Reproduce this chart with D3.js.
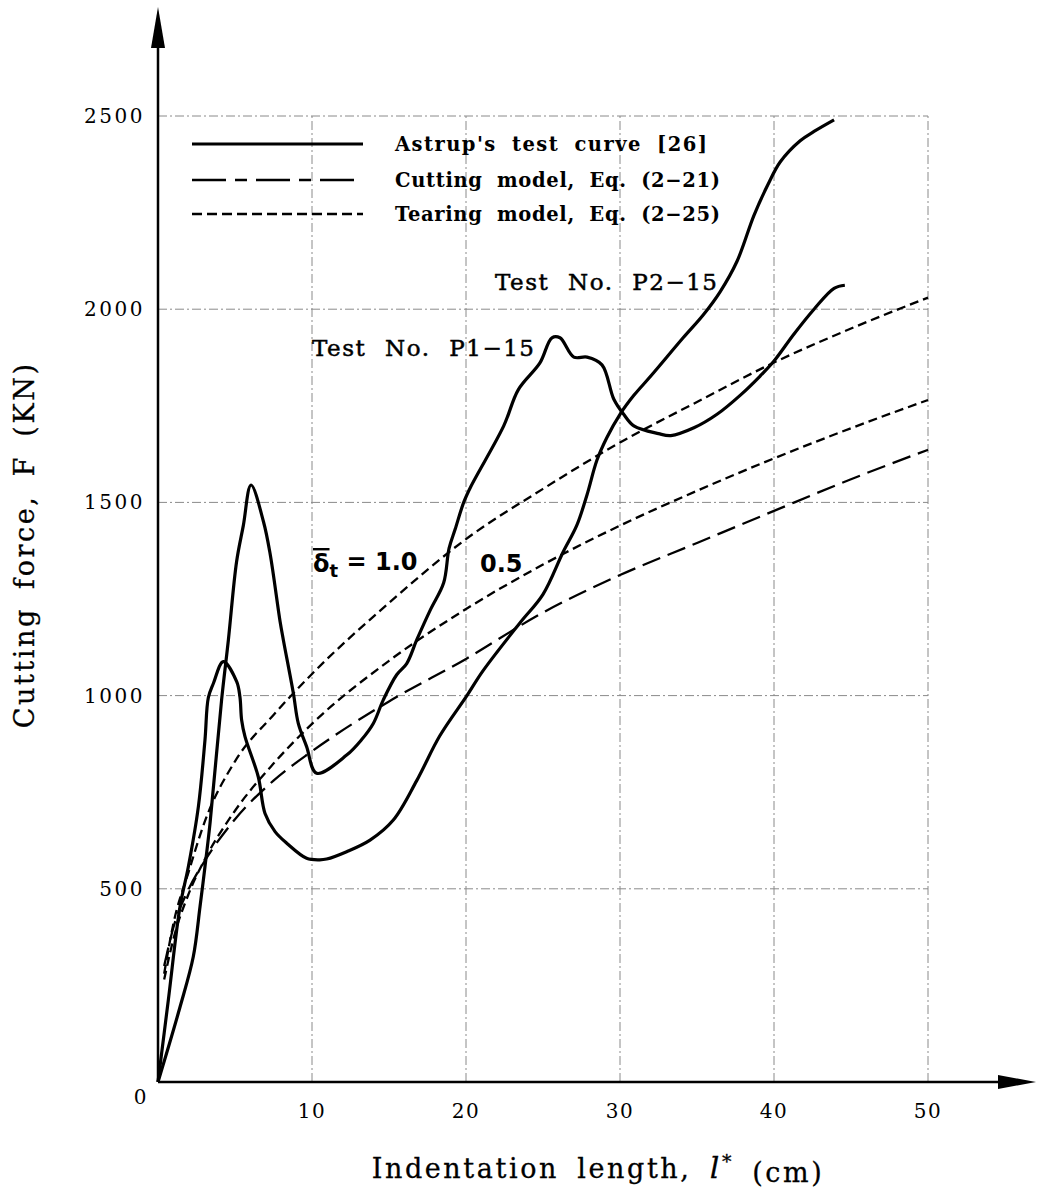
<!DOCTYPE html>
<html>
<head>
<meta charset="utf-8">
<script src="https://cdn.jsdelivr.net/npm/d3@7"></script>
<style>
  body { margin: 0; background: #fff; }
  svg { display: block; }
</style>
</head>
<body>
<svg></svg>
<script>
// Astrup's test curves (P1-15, P2-15)
const p1X = [0, 1.43, 2.29, 2.73, 3.05, 3.38, 4.13, 4.57, 5.1, 5.54, 6.04, 6.85, 7.28, 7.93, 8.14, 8.79, 9.11, 9.65, 10.3,
    12.25, 13.2, 13.98, 14.63, 15.5, 16.15, 16.8, 17.7, 18.55, 18.9, 19.3, 19.85, 20.3, 22.45, 23.4, 24.8, 25.58, 26.1,
    27, 27.86, 28.83, 29.6, 30.24, 30.9, 32.5, 33.3, 34.8, 36.3, 37.8, 39.1, 40, 41.3, 42.6, 43.9, 44.6];
const p1F = [0, 194, 324, 454, 557, 670, 989, 1144, 1346, 1440, 1545, 1450, 1367, 1191, 1144, 1006, 928, 868, 799,
    846, 885, 928, 989, 1054, 1083, 1144, 1223, 1292, 1381, 1431, 1500, 1540, 1698, 1792, 1861, 1926, 1926,
    1876, 1876, 1856, 1767, 1728, 1698, 1678, 1673, 1693, 1728, 1777, 1827, 1866, 1936, 2000, 2054, 2062];

const p2X = [0, 0.67, 1.43, 1.97, 2.62, 3.05, 3.27, 3.6, 4.24, 5.11, 5.32, 5.43, 5.65, 6.51, 6.95, 7.6, 8.36, 9.65, 10.5,
    10.95, 12.25, 13.77, 15.28, 16.8, 18.3, 20.06, 21.1, 23.5, 25, 26.3, 27.2, 27.86, 28.5, 29.15, 30, 30.9, 32,
    34.1, 35.4, 36.5, 37.6, 38.7, 39.6, 40.4, 41.7, 42.6, 43.9];
const p2F = [0, 212, 454, 557, 712, 885, 995, 1032, 1088, 1036, 997, 937, 894, 790, 695, 648, 618, 579, 575,
    577, 596, 626, 678, 780, 896, 1000, 1064, 1188, 1262, 1371, 1441, 1520, 1609, 1668, 1728, 1777, 1827,
    1926, 1985, 2045, 2124, 2243, 2322, 2381, 2436, 2460, 2490];

// model curves
const modelX = [0.4, 1, 2, 3, 5, 7.5, 10, 15, 20, 25, 30, 35, 40, 45, 50];
const tear10F = [280, 410, 545, 670, 830, 950, 1056, 1240, 1405, 1535, 1655, 1760, 1862, 1950, 2030];
const tear05F = [265, 370, 488, 573, 702, 824, 927, 1090, 1224, 1339, 1440, 1530, 1614, 1692, 1765];
const cutF = [300, 400, 500, 570, 680, 780, 856, 985, 1095, 1215, 1312, 1395, 1478, 1560, 1636];

const xTicks = [10, 20, 30, 40, 50];
const yTicks = [500, 1000, 1500, 2000, 2500];

const legendItems = ["Astrup's test curve [26]", "Cutting model, Eq. (2\u221221)", "Tearing model, Eq. (2\u221225)"];

const W = 1039, H = 1188;
const margin = {top: 116, right: 111, bottom: 106, left: 158},
    width = W - margin.left - margin.right,
    height = H - margin.top - margin.bottom;

const svg = d3.select("svg")
    .attr("width", W)
    .attr("height", H)
  .append("g")
    .attr("transform", `translate(${margin.left},${margin.top})`);

const x = d3.scaleLinear().domain([0, 50]).range([0, width]);
const y = d3.scaleLinear().domain([0, 2500]).range([height, 0]);

const serif = "'DejaVu Serif', 'Liberation Serif', serif";

// grid
svg.append("g")
    .selectAll("line")
    .data(xTicks)
    .join("line")
    .attr("x1", d => x(d)).attr("x2", d => x(d))
    .attr("y1", y(0)).attr("y2", y(2500))
    .attr("stroke", "#8a8a8a")
    .attr("stroke-width", 1)
    .attr("stroke-dasharray", "9,3,2,3");

svg.append("g")
    .selectAll("line")
    .data(yTicks)
    .join("line")
    .attr("x1", x(0)).attr("x2", x(50))
    .attr("y1", d => y(d)).attr("y2", d => y(d))
    .attr("stroke", "#8a8a8a")
    .attr("stroke-width", 1)
    .attr("stroke-dasharray", "9,3,2,3");

// axes with arrows
svg.append("line")
    .attr("x1", x(0)).attr("x2", x(0))
    .attr("y1", y(0)).attr("y2", -80)
    .attr("stroke", "#000").attr("stroke-width", 2.5);
svg.append("path")
    .attr("d", `M${x(0)},${-109} L${x(0) - 7},${-68} L${x(0) + 7},${-68} Z`)
    .attr("fill", "#000");

svg.append("line")
    .attr("x1", x(0)).attr("x2", width + 80)
    .attr("y1", y(0)).attr("y2", y(0))
    .attr("stroke", "#000").attr("stroke-width", 2.5);
svg.append("path")
    .attr("d", `M${width + 108},${y(0)} L${width + 70},${y(0) - 7} L${width + 70},${y(0) + 7} Z`)
    .attr("fill", "#000");

// tick labels
svg.append("g")
    .selectAll("text")
    .data(xTicks)
    .join("text")
    .attr("x", d => x(d))
    .attr("y", y(0) + 36)
    .attr("text-anchor", "middle")
    .style("font-family", serif)
    .style("font-size", "20px")
    .style("letter-spacing", "1.5px")
    .text(d => d);

svg.append("text")
    .attr("x", -18)
    .attr("y", y(0) + 22)
    .attr("text-anchor", "middle")
    .style("font-family", serif)
    .style("font-size", "20px")
    .text("0");

svg.append("g")
    .selectAll("text")
    .data(yTicks)
    .join("text")
    .attr("x", -13)
    .attr("y", d => y(d))
    .attr("dy", "0.35em")
    .attr("text-anchor", "end")
    .style("font-family", serif)
    .style("font-size", "20px")
    .style("letter-spacing", "2.5px")
    .text(d => d);

// axis titles
const xt = svg.append("text")
    .attr("x", 440)
    .attr("y", height + 96)
    .attr("text-anchor", "middle")
    .style("font-family", serif)
    .style("font-size", "27px")
    .style("letter-spacing", "2.6px")
    .style("word-spacing", "7px")
    .style("stroke", "#000").style("stroke-width", 0.3);
xt.append("tspan").text("Indentation length, ");
xt.append("tspan").style("font-style", "italic").style("font-size", "30px").text("l");
xt.append("tspan").attr("dy", "-0.55em").style("font-size", "19px").text("*");
xt.append("tspan").attr("dy", "0.55em").text(" (cm)");

svg.append("text")
    .attr("transform", `translate(${-124},${y(1390)}) rotate(-90)`)
    .attr("text-anchor", "middle")
    .style("font-family", serif)
    .style("font-size", "27px")
    .style("letter-spacing", "2.6px")
    .style("word-spacing", "7px")
    .style("stroke", "#000").style("stroke-width", 0.3)
    .text("Cutting force, F (KN)");

// curves
const line = d3.line()
    .curve(d3.curveCatmullRom.alpha(0.5))
    .x(d => x(d[0]))
    .y(d => y(d[1]));

const modelLine = d3.line()
    .curve(d3.curveMonotoneX)
    .x(d => x(d[0]))
    .y(d => y(d[1]));

const curves = svg.append("g");

curves.append("path")
    .datum(modelX.map((v, i) => [v, cutF[i]]))
    .attr("d", modelLine)
    .attr("fill", "none")
    .attr("stroke", "#000")
    .attr("stroke-width", 2.3)
    .attr("stroke-dasharray", "19,8");

curves.append("path")
    .datum(modelX.map((v, i) => [v, tear05F[i]]))
    .attr("d", modelLine)
    .attr("fill", "none")
    .attr("stroke", "#000")
    .attr("stroke-width", 2.3)
    .attr("stroke-dasharray", "9,5");

curves.append("path")
    .datum(modelX.map((v, i) => [v, tear10F[i]]))
    .attr("d", modelLine)
    .attr("fill", "none")
    .attr("stroke", "#000")
    .attr("stroke-width", 2.3)
    .attr("stroke-dasharray", "9,5");

curves.append("path")
    .datum(p1X.map((v, i) => [v, p1F[i]]))
    .attr("d", line)
    .attr("fill", "none")
    .attr("stroke", "#000")
    .attr("stroke-width", 3.2)
    .attr("stroke-linejoin", "round");

curves.append("path")
    .datum(p2X.map((v, i) => [v, p2F[i]]))
    .attr("d", line)
    .attr("fill", "none")
    .attr("stroke", "#000")
    .attr("stroke-width", 3.2)
    .attr("stroke-linejoin", "round");

// legend
const dashes = [null, "34,9,12,9", "10,5"];
const legend = svg.append("g")
    .selectAll("g")
    .data(legendItems)
    .join("g")
    .attr("transform", (d, i) => `translate(0,${[28, 64, 98][i]})`);

legend.append("line")
    .attr("x1", 34).attr("x2", 205)
    .attr("y1", 0).attr("y2", 0)
    .attr("stroke", "#000")
    .attr("stroke-width", (d, i) => i === 0 ? 3.2 : 2.3)
    .attr("stroke-dasharray", (d, i) => dashes[i]);

legend.append("text")
    .attr("x", 237)
    .attr("y", 0)
    .attr("dy", "0.35em")
    .attr("textLength", (d, i) => i === 0 ? 312 : 325)
    .attr("lengthAdjust", "spacing")
    .style("font-family", serif)
    .style("font-size", "19.5px")
    .style("font-weight", "bold")
    .style("word-spacing", "7px")
    .text(d => d);

// annotations
svg.append("text")
    .attr("x", 337).attr("y", 174)
    .attr("textLength", 222)
    .attr("lengthAdjust", "spacing")
    .style("font-family", serif)
    .style("font-size", "23px")
    .style("word-spacing", "10px")
    .style("stroke", "#000").style("stroke-width", 0.5)
    .text("Test No. P2\u221215");

svg.append("text")
    .attr("x", 154).attr("y", 240)
    .attr("textLength", 222)
    .attr("lengthAdjust", "spacing")
    .style("font-family", serif)
    .style("font-size", "23px")
    .style("word-spacing", "10px")
    .style("stroke", "#000").style("stroke-width", 0.5)
    .text("Test No. P1\u221215");

const dl = svg.append("text")
    .attr("x", 155).attr("y", 456)
    .style("font-family", "'DejaVu Sans', sans-serif")
    .style("font-size", "24px")
    .style("font-weight", "bold");
dl.append("tspan").style("text-decoration", "overline").text("\u03b4");
dl.append("tspan").attr("dy", "0.3em").style("font-size", "18px").text("t");
dl.append("tspan").attr("dy", "-0.3em").text(" = 1.0");

svg.append("text")
    .attr("x", 322).attr("y", 456)
    .style("font-family", "'DejaVu Sans', sans-serif")
    .style("font-size", "24px")
    .style("font-weight", "bold")
    .text("0.5");
</script>
</body>
</html>
